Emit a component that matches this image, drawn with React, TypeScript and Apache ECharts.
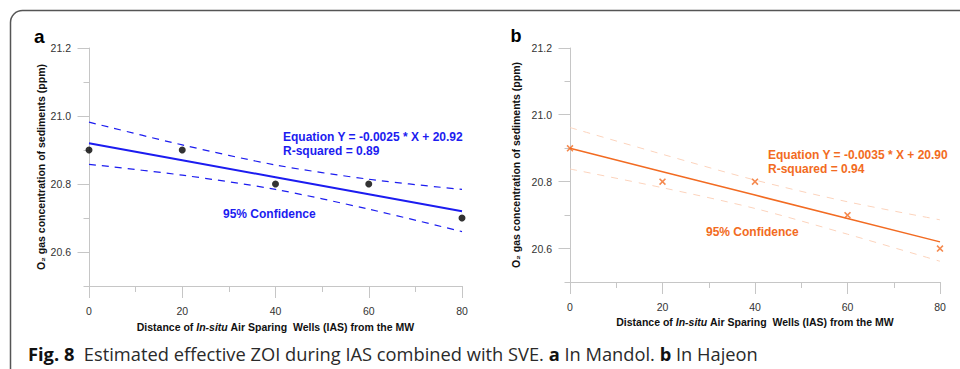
import React, { useEffect, useRef } from "react";
import * as echarts from "echarts";

// ---- data ----
const distance = [0, 20, 40, 60, 80];
const xTickLabels = ["0", "20", "40", "60", "80"];
const yMajorTicks = [20.6, 20.8, 21.0, 21.2];
const yMinorTicks = [20.5, 20.7, 20.9, 21.1];

const mandolO2 = [20.9, 20.9, 20.8, 20.8, 20.7];
const mandolFit = [20.92, 20.87, 20.82, 20.77, 20.72];
const mandolUpper = [20.982, 20.915, 20.856, 20.814, 20.784];
const mandolLower = [20.858, 20.826, 20.784, 20.726, 20.66];

const hajeonO2 = [20.9, 20.8, 20.8, 20.7, 20.6];
const hajeonFit = [20.9, 20.83, 20.76, 20.69, 20.62];
const hajeonUpper = [20.962, 20.882, 20.805, 20.74, 20.686];
const hajeonLower = [20.838, 20.782, 20.72, 20.643, 20.562];

const eqA = ["Equation Y = -0.0025 * X + 20.92", "R-squared = 0.89"];
const eqB = ["Equation Y = -0.0035 * X + 20.90", "R-squared = 0.94"];
const confText = "95% Confidence";
const yName = "O₂ gas concentration of sediments (ppm)";

const BLUE = "#1c1cf0";
const ORANGE = "#f26b22";
const ORANGE_LIGHT = "#fcd3bc";
const AXIS = "#c6c6c6";
const FONT = "'Liberation Sans', Arial, sans-serif";

const pairs = (ys: number[]) => distance.map((x, i) => [x, ys[i]]);

function tickSeries(grid: number, values: number[], len: number) {
  return {
    type: "custom",
    xAxisIndex: grid,
    yAxisIndex: grid,
    clip: false,
    silent: true,
    z: 1,
    data: values.map((v) => [0, v]),
    renderItem: (_p: any, api: any) => {
      const c = api.coord([api.value(0), api.value(1)]);
      const y = Math.floor(c[1]) + 0.5;
      const x = Math.round(c[0] - 0.5) + 0.5;
      return {
        type: "line",
        shape: { x1: x - len, y1: y, x2: x, y2: y },
        style: { stroke: AXIS, lineWidth: 1 },
      };
    },
  };
}

function xAxisFor(grid: number, gap: number) {
  return {
    type: "value",
    gridIndex: grid,
    min: 0,
    max: 80,
    interval: 20,
    axisLine: { show: true, lineStyle: { color: AXIS, width: 1 } },
    axisTick: { show: true, length: 12, lineStyle: { color: AXIS } },
    minorTick: { show: true, splitNumber: 2, length: 6, lineStyle: { color: AXIS } },
    splitLine: { show: false },
    axisLabel: {
      margin: 19,
      color: "#333",
      fontFamily: FONT,
      fontSize: 10.5,
      formatter: (v: number) => xTickLabels[distance.indexOf(v)] ?? "",
    },
    name: "Distance of {i|In-situ} Air Sparing  Wells (IAS) from the MW",
    nameLocation: "middle",
    nameGap: gap,
    nameTextStyle: {
      fontFamily: FONT,
      fontWeight: "bold",
      fontSize: 10.5,
      color: "#111",
      rich: {
        i: { fontFamily: FONT, fontWeight: "bold", fontStyle: "italic", fontSize: 10.5, color: "#111" },
      },
    },
  };
}

function yAxisFor(grid: number, gap: number) {
  return {
    type: "value",
    gridIndex: grid,
    min: 20.5,
    max: 21.2,
    interval: 0.1,
    axisLine: { show: true, lineStyle: { color: AXIS, width: 1 } },
    axisTick: { show: false },
    splitLine: { show: false },
    axisLabel: {
      margin: 18,
      color: "#333",
      fontFamily: FONT,
      fontSize: 10.5,
      formatter: (v: number) => {
        const t = yMajorTicks.find((m) => Math.abs(m - v) < 1e-6);
        return t !== undefined ? t.toFixed(1) : "";
      },
    },
    name: yName,
    nameLocation: "middle",
    nameGap: gap,
    nameTextStyle: { fontFamily: FONT, fontWeight: "bold", fontSize: 10.5, color: "#111" },
  };
}

export default function App() {
  const ref = useRef<HTMLDivElement>(null);
  useEffect(() => {
    if (!ref.current) return;
    const chart = echarts.init(ref.current, null, { renderer: "svg" });
    const option: any = {
      animation: false,
      backgroundColor: "#fff",
      grid: [
        { left: 89, top: 48, width: 373, height: 238 },
        { left: 570, top: 48, width: 370, height: 234 },
      ],
      xAxis: [xAxisFor(0, 35), xAxisFor(1, 34)],
      yAxis: [yAxisFor(0, 43), yAxisFor(1, 49)],
      series: [
        tickSeries(0, yMajorTicks, 12),
        tickSeries(0, yMinorTicks, 6),
        tickSeries(1, yMajorTicks, 12),
        tickSeries(1, yMinorTicks, 6),
        // panel a
        {
          type: "line", xAxisIndex: 0, yAxisIndex: 0, data: pairs(mandolUpper), smooth: 0.3,
          showSymbol: false, lineStyle: { color: BLUE, width: 1.2, type: [7, 6] }, silent: true,
        },
        {
          type: "line", xAxisIndex: 0, yAxisIndex: 0, data: pairs(mandolLower), smooth: 0.3,
          showSymbol: false, lineStyle: { color: BLUE, width: 1.2, type: [7, 6] }, silent: true,
        },
        {
          type: "line", xAxisIndex: 0, yAxisIndex: 0, data: pairs(mandolFit),
          showSymbol: false, lineStyle: { color: BLUE, width: 2 }, silent: true,
        },
        {
          type: "scatter", xAxisIndex: 0, yAxisIndex: 0, data: pairs(mandolO2),
          symbol: "circle", symbolSize: 7, itemStyle: { color: "#000" }, z: 5,
        },
        // panel b
        {
          type: "line", xAxisIndex: 1, yAxisIndex: 1, data: pairs(hajeonUpper), smooth: 0.3,
          showSymbol: false, lineStyle: { color: ORANGE_LIGHT, width: 1, type: [7, 7] }, silent: true,
        },
        {
          type: "line", xAxisIndex: 1, yAxisIndex: 1, data: pairs(hajeonLower), smooth: 0.3,
          showSymbol: false, lineStyle: { color: ORANGE_LIGHT, width: 1, type: [7, 7] }, silent: true,
        },
        {
          type: "line", xAxisIndex: 1, yAxisIndex: 1, data: pairs(hajeonFit),
          showSymbol: false, lineStyle: { color: ORANGE, width: 1.5 }, silent: true,
        },
        {
          type: "scatter", xAxisIndex: 1, yAxisIndex: 1, data: pairs(hajeonO2),
          symbol:
            "path://M0,1.6 L1.6,0 L5,3.4 L8.4,0 L10,1.6 L6.6,5 L10,8.4 L8.4,10 L5,6.6 L1.6,10 L0,8.4 L3.4,5 Z",
          symbolSize: 7, itemStyle: { color: ORANGE }, z: 5,
        },
      ],
      graphic: [
        {
          type: "rect", silent: true, z: -1,
          shape: { x: 10.5, y: 10.5, width: 1200, height: 600, r: 12 },
          style: { fill: "none", stroke: "#555", lineWidth: 1.5 },
        },
        { type: "text", x: 34, y: 36.5, style: { text: "a", font: `bold 19px ${FONT}`, fill: "#000", verticalAlign: "middle" } },
        { type: "text", x: 510.5, y: 35.5, style: { text: "b", font: `bold 18px ${FONT}`, fill: "#000", verticalAlign: "middle" } },
        {
          type: "text", x: 283, y: 130,
          style: { text: eqA.join("\n"), font: `bold 12px ${FONT}`, fill: BLUE, lineHeight: 14 },
        },
        { type: "text", x: 223, y: 213.5, style: { text: confText, font: `bold 12px ${FONT}`, fill: BLUE, verticalAlign: "middle" } },
        {
          type: "text", x: 768, y: 148,
          style: { text: eqB.join("\n"), font: `bold 12px ${FONT}`, fill: ORANGE, lineHeight: 14 },
        },
        { type: "text", x: 706, y: 232, style: { text: confText, font: `bold 12px ${FONT}`, fill: ORANGE, verticalAlign: "middle" } },
        {
          type: "text", x: 28, y: 353,
          style: {
            text:
              "{b|Fig. 8}  {r|Estimated effective ZOI during IAS combined with SVE. }{b|a}{r| In Mandol. }{b|b}{r| In Hajeon}",
            verticalAlign: "middle",
            rich: {
              b: { fontFamily: "'Open Sans', sans-serif", fontWeight: "bold", fontSize: 18.3, fill: "#111" },
              r: { fontFamily: "'Open Sans', sans-serif", fontWeight: "normal", fontSize: 18.3, fill: "#2a2a2a" },
            },
            font: `18.3px 'Open Sans', sans-serif`,
          },
        },
      ],
    };
    chart.setOption(option);
    return () => chart.dispose();
  }, []);
  return (
    <div
      ref={ref}
      style={{ position: "absolute", left: 0, top: 0, width: 960, height: 369 }}
    />
  );
}
